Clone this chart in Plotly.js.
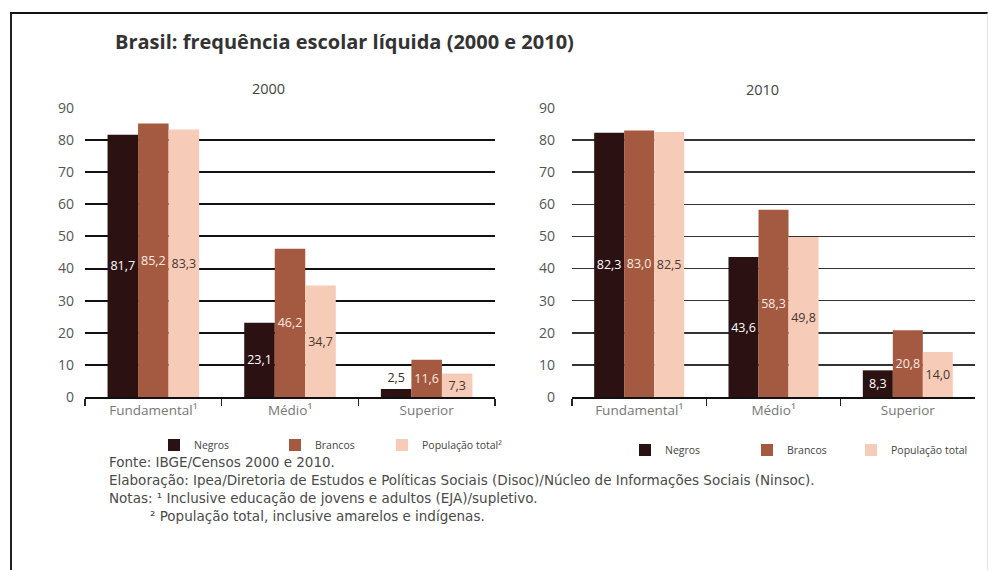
<!DOCTYPE html>
<html>
<head>
<meta charset="utf-8">
<script src="https://cdn.plot.ly/plotly-3.0.1.min.js"></script>
<style>
  html, body { margin: 0; padding: 0; background: #fff; }
  #wrap { position: relative; width: 988px; height: 570px; }
  #chart { position: absolute; left: 0; top: 0; width: 988px; height: 570px; }
  #frame { position: absolute; left: 10px; top: 12px; width: 975px; height: 570px;
           border-top: 2px solid #111; border-left: 2px solid #222; border-right: 1px solid #e4e4e4;
           pointer-events: none; z-index: 5; }
</style>
</head>
<body>
<div id="wrap">
  <div id="chart"></div>
  <div id="frame"></div>
</div>
<script>
// ---- data ----
const categories = ["Fundamental¹", "Médio¹", "Superior"];
const years = ["2000", "2010"];
const negros2000 = [81.7, 23.1, 2.5];
const brancos2000 = [85.2, 46.2, 11.6];
const pop2000 = [83.3, 34.7, 7.3];
const negros2010 = [82.3, 43.6, 8.3];
const brancos2010 = [83.0, 58.3, 20.8];
const pop2010 = [82.5, 49.8, 14.0];
const seriesNames2000 = ["Negros", "Brancos", "População total²"];
const seriesNames2010 = ["Negros", "Brancos", "População total"];
const yTicks = [0, 10, 20, 30, 40, 50, 60, 70, 80, 90];
const chartTitle = "Brasil: frequência escolar líquida (2000 e 2010)";
const footerLines = [
  "Fonte: IBGE/Censos 2000 e 2010.",
  "Elaboração: Ipea/Diretoria de Estudos e Políticas Sociais (Disoc)/Núcleo de Informações Sociais (Ninsoc).",
  "Notas: ¹ Inclusive educação de jovens e adultos (EJA)/supletivo.",
  "² População total, inclusive amarelos e indígenas."
];

// ---- styles ----
const W = 988, H = 570;
const colors = ["#2b1111", "#a35a40", "#f6cbb7"];
const textColors = ["#ffffff", "#fbe9e0", "#4a3630"];
const FONT = "'Open Sans', sans-serif";
const FOOT_FONT = "'DejaVu Sans', sans-serif";
const px = v => v / W;
const py = v => 1 - v / H;

const groups = [
  { vals: [negros2000, brancos2000, pop2000], names: seriesNames2000, xa: "x", ya: "y" },
  { vals: [negros2010, brancos2010, pop2010], names: seriesNames2010, xa: "x2", ya: "y2" }
];

const traces = [];
let legendIdx = 0;
groups.forEach((g, gi) => {
  g.vals.forEach((vals, si) => {
    legendIdx++;
    const lid = legendIdx === 1 ? "legend" : "legend" + legendIdx;
    traces.push({
      type: "bar",
      x: categories,
      y: vals,
      name: g.names[si],
      xaxis: g.xa,
      yaxis: g.ya,
      legend: lid,
      marker: { color: colors[si], line: { width: 0 } },
      texttemplate: "%{y:.1f}",
      textposition: vals.map(v => v < 5 ? "outside" : "inside"),
      insidetextanchor: "middle",
      constraintext: "none",
      textangle: 0,
      cliponaxis: false,
      textfont: { family: FONT, size: 12.5, color: vals.map(v => v < 5 ? "#3a2a25" : textColors[si]) },
      hoverinfo: "skip"
    });
  });
});

const legendX = [154, 275, 382, 625, 747, 851];
const legendY = [445, 445, 445, 450, 450, 450];
const legends = {};
for (let i = 0; i < 6; i++) {
  const key = i === 0 ? "legend" : "legend" + (i + 1);
  legends[key] = {
    x: px(legendX[i]), y: py(legendY[i]), xanchor: "left", yanchor: "middle",
    orientation: "h", bgcolor: "rgba(0,0,0,0)", borderwidth: 0,
    font: { family: FONT, size: 10.5, color: "#444" },
    itemclick: false, itemdoubleclick: false
  };
}

function xAxis(domain) {
  return {
    domain: domain, type: "category",
    showline: true, linecolor: "#111", linewidth: 2,
    ticks: "outside", tickson: "boundaries", ticklen: 7, tickwidth: 1.5, tickcolor: "#222",
    tickfont: { family: FONT, size: 13.5, color: "#777" },
    showgrid: false, zeroline: false, fixedrange: true
  };
}
function yAxis(domain, anchor, standoff, gridColor, gridWidth) {
  return {
    domain: domain, anchor: anchor, range: [0, 90],
    tickvals: yTicks, ticktext: yTicks.map(String),
    showline: false, ticks: "", ticklabelstandoff: standoff,
    showgrid: true, gridcolor: gridColor, gridwidth: gridWidth,
    zeroline: false,
    tickfont: { family: FONT, size: 14, color: "#555" },
    fixedrange: true
  };
}

const annotations = [
  { text: years[0], x: px(268), y: py(88) },
  { text: years[1], x: px(762), y: py(89) }
].map(a => Object.assign(a, {
  xref: "paper", yref: "paper", xanchor: "center", yanchor: "middle", showarrow: false,
  font: { family: FONT, size: 14.5, color: "#444" }
}));

const footerX = [107, 107, 107, 148];
const footerY = [462, 480, 498, 516];
footerLines.forEach((t, i) => {
  annotations.push({
    text: t, xref: "paper", yref: "paper", x: px(footerX[i]), y: py(footerY[i]),
    xanchor: "left", yanchor: "middle", showarrow: false,
    font: { family: FOOT_FONT, size: 13.5, color: "#4a4a4a" }
  });
});

const layout = Object.assign({
  width: W, height: H,
  margin: { l: 0, r: 0, t: 0, b: 0, autoexpand: false },
  paper_bgcolor: "#fff", plot_bgcolor: "rgba(0,0,0,0)",
  separators: ",.",
  showlegend: true,
  barmode: "group", bargap: 0.33, bargroupgap: 0,
  title: {
    text: "<b>" + chartTitle + "</b>",
    x: px(115), xanchor: "left", xref: "paper",
    y: py(42), yanchor: "middle", yref: "paper",
    font: { family: "'Open Sans', sans-serif", size: 20, color: "#333" }
  },
  xaxis: xAxis([px(85), px(495)]),
  yaxis: yAxis([py(397), py(108)], "x", 10, "#111", 2),
  xaxis2: Object.assign(xAxis([px(572), px(975)]), { anchor: "y2" }),
  yaxis2: yAxis([py(397), py(108)], "x2", 16, "#333", 1.5),
  annotations: annotations,
  font: { family: FONT }
}, legends);
layout.xaxis.anchor = "y";

Plotly.newPlot("chart", traces, layout, { displayModeBar: false, staticPlot: true });
</script>
</body>
</html>
